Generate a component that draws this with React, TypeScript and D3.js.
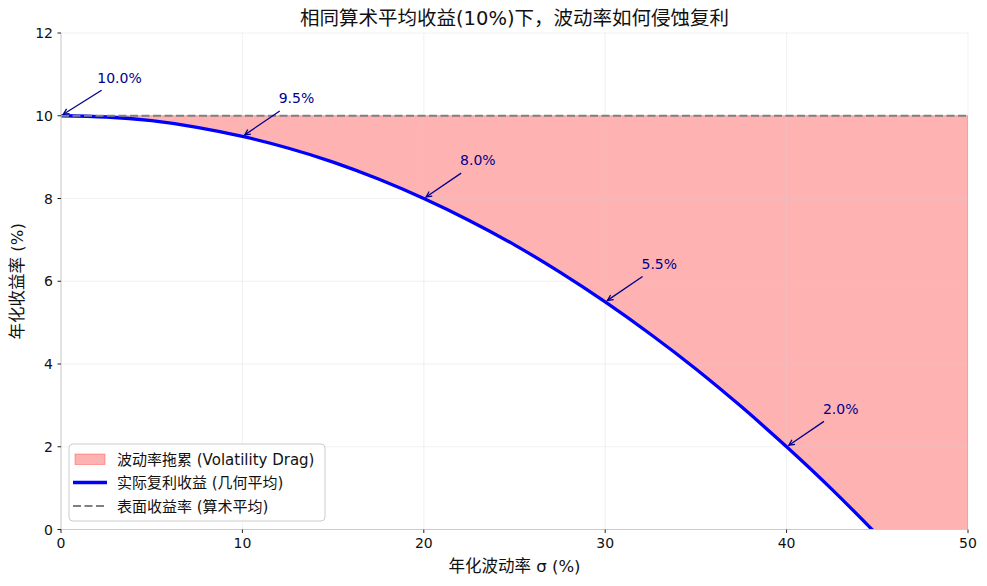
import * as d3 from "d3";
import { useEffect } from "react";

const WIDTH = 987;
const HEIGHT = 586;

// volatility σ (%) and the compounded (geometric) return
const SIGMA = [0, 2.5, 5, 7.5, 10, 12.5, 15, 17.5, 20, 22.5, 25, 27.5, 30, 32.5, 35, 37.5, 40, 42.5, 45, 47.5, 50];
const GEO_RETURN = [10, 9.97, 9.88, 9.72, 9.5, 9.22, 8.88, 8.47, 8.0, 7.47, 6.88, 6.22, 5.5, 4.72, 3.88, 2.97, 2.0, 0.97, -0.13, -1.28, -2.5];
const ARITH_RETURN = 10;

const ANNOT_SIGMA = [0, 10, 20, 30, 40];
const ANNOT_VALUE = [10.0, 9.5, 8.0, 5.5, 2.0];

const X_TICKS = [0, 10, 20, 30, 40, 50];
const Y_TICKS = [0, 2, 4, 6, 8, 10, 12];

const LEGEND_LABELS = ["波动率拖累 (Volatility Drag)", "实际复利收益 (几何平均)", "表面收益率 (算术平均)"];

const TITLE = "相同算术平均收益(10%)下，波动率如何侵蚀复利";
const X_LABEL = "年化波动率 σ (%)";
const Y_LABEL = "年化收益率 (%)";

const FONT = "'DejaVu Sans', 'Noto Sans CJK SC', sans-serif";
const M = { left: 61, right: 968, top: 33, bottom: 529.5 };

let ctx: CanvasRenderingContext2D | null = null;
function textWidth(s: string, size: number) {
	if (!ctx) ctx = document.createElement("canvas").getContext("2d");
	if (!ctx) return s.length * size * 0.6;
	ctx.font = `${size}px 'DejaVu Sans'`;
	return ctx.measureText(s).width;
}

function Annotation({ sx, sy, tx, ty, label }: { sx: number; sy: number; tx: number; ty: number; label: string }) {
	const fs = 14;
	const pad = 2.78;
	const w = textWidth(label, fs);
	const left = tx - pad;
	const right = tx + w + pad;
	const top = ty - 0.76 * fs - pad;
	const bottom = ty + 0.24 * fs + pad;
	const cx = (left + right) / 2;
	const cy = (top + bottom) / 2;
	const dx = sx - cx;
	const dy = sy - cy;
	const len = Math.hypot(dx, dy);
	const ux = dx / len;
	const uy = dy / len;
	const t = Math.min((right - left) / 2 / Math.abs(dx || 1e-9), (bottom - top) / 2 / Math.abs(dy || 1e-9));
	const x1 = cx + dx * t + ux * 2.78;
	const y1 = cy + dy * t + uy * 2.78;
	const x2 = sx - ux * 2.78;
	const y2 = sy - uy * 2.78;
	const hl = 5.56;
	const hw = 2.78;
	const bx = x2 - ux * hl;
	const by = y2 - uy * hl;
	const head = `M${bx - uy * hw},${by + ux * hw}L${x2},${y2}L${bx + uy * hw},${by - ux * hw}`;
	return (
		<g>
			<line x1={x1} y1={y1} x2={x2} y2={y2} stroke="#00008b" strokeWidth={1.3} />
			<path d={head} fill="none" stroke="#00008b" strokeWidth={1.3} />
			<text x={tx} y={ty} fontSize={fs} fill="#00008b" fontFamily={FONT}>
				{label}
			</text>
		</g>
	);
}

export default function App() {
	useEffect(() => {
		document.body.style.margin = "0";
	}, []);

	const x = d3.scaleLinear().domain([0, 50]).range([M.left, M.right]);
	const y = d3.scaleLinear().domain([0, 12]).range([M.bottom, M.top]);

	const points = SIGMA.map((s, i) => [s, GEO_RETURN[i]] as [number, number]);

	const line = d3
		.line<[number, number]>()
		.x((d) => x(d[0]))
		.y((d) => y(d[1]))
		.curve(d3.curveNatural);

	const area = d3
		.area<[number, number]>()
		.x((d) => x(d[0]))
		.y0(() => y(ARITH_RETURN))
		.y1((d) => y(d[1]))
		.curve(d3.curveNatural);

	const legendX = 69;
	const legendY = 444;
	const rowY = [459, 482.5, 506];

	return (
		<svg width={WIDTH} height={HEIGHT} style={{ display: "block", background: "#fff" }}>
			<defs>
				<clipPath id="plot-clip">
					<rect x={M.left} y={M.top} width={M.right - M.left} height={M.bottom - M.top} />
				</clipPath>
			</defs>

			{/* drag area */}
			<g clipPath="url(#plot-clip)">
				<path d={area(points) ?? ""} fill="red" fillOpacity={0.3} stroke="red" strokeOpacity={0.3} strokeWidth={1} />
			</g>

			{/* grid */}
			<g stroke="#d0d0d0" strokeOpacity={0.3} strokeWidth={1}>
				{X_TICKS.map((t) => (
					<line key={`gx${t}`} x1={x(t)} x2={x(t)} y1={M.top} y2={M.bottom} />
				))}
				{Y_TICKS.map((t) => (
					<line key={`gy${t}`} x1={M.left} x2={M.right} y1={y(t)} y2={y(t)} />
				))}
			</g>

			<g clipPath="url(#plot-clip)">
				<path d={line(points) ?? ""} fill="none" stroke="#0000ff" strokeWidth={3.3} />
			</g>
			<line
				x1={x(0)}
				x2={x(50)}
				y1={y(ARITH_RETURN)}
				y2={y(ARITH_RETURN)}
				stroke="#808080"
				strokeWidth={2}
				strokeDasharray="8,3.5"
			/>

			{/* spines */}
			<line x1={M.left} x2={M.left} y1={M.top} y2={M.bottom} stroke="#cccccc" strokeWidth={1} />
			<line x1={M.left} x2={M.right} y1={M.bottom} y2={M.bottom} stroke="#cccccc" strokeWidth={1} />

			{/* ticks */}
			{X_TICKS.map((t) => (
				<g key={`xt${t}`}>
					<line x1={x(t)} x2={x(t)} y1={M.bottom} y2={M.bottom + 3.5} stroke="#222" strokeWidth={1} />
					<text x={x(t)} y={M.bottom + 18.5} textAnchor="middle" fontSize={14} fontFamily={FONT} fill="#111">
						{t}
					</text>
				</g>
			))}
			{Y_TICKS.map((t) => (
				<g key={`yt${t}`}>
					<line x1={M.left - 3.5} x2={M.left} y1={y(t)} y2={y(t)} stroke="#222" strokeWidth={1} />
					<text x={M.left - 8} y={y(t) + 5} textAnchor="end" fontSize={14} fontFamily={FONT} fill="#111">
						{t}
					</text>
				</g>
			))}

			{/* annotations */}
			{ANNOT_SIGMA.map((s, i) => (
				<Annotation
					key={`a${s}`}
					sx={x(s)}
					sy={y(ANNOT_VALUE[i])}
					tx={x(s + 2)}
					ty={y(ANNOT_VALUE[i] + 0.8)}
					label={`${ANNOT_VALUE[i].toFixed(1)}%`}
				/>
			))}

			{/* legend */}
			<g>
				<rect
					x={legendX}
					y={legendY}
					width={256}
					height={77}
					rx={4}
					fill="#fff"
					fillOpacity={0.8}
					stroke="#cccccc"
					strokeWidth={1}
				/>
				<rect x={75} y={rowY[0] - 5} width={30} height={10.5} fill="red" fillOpacity={0.3} stroke="red" strokeOpacity={0.3} />
				<line x1={73} x2={107} y1={rowY[1]} y2={rowY[1]} stroke="#0000ff" strokeWidth={3.3} />
				<line x1={73} x2={107} y1={rowY[2]} y2={rowY[2]} stroke="#808080" strokeWidth={2} strokeDasharray="8,3.5" />
				{LEGEND_LABELS.map((l, i) => (
					<text key={l} x={117} y={rowY[i] + 5.5} fontSize={15} fontFamily={FONT} fill="#111">
						{l}
					</text>
				))}
			</g>

			{/* labels */}
			<text x={(M.left + M.right) / 2} y={25} textAnchor="middle" fontSize={19.5} fontFamily={FONT} fill="#111">
				{TITLE}
			</text>
			<text x={(M.left + M.right) / 2} y={572} textAnchor="middle" fontSize={16.5} fontFamily={FONT} fill="#111">
				{X_LABEL}
			</text>
			<text
				transform={`translate(23,${(M.top + M.bottom) / 2}) rotate(-90)`}
				textAnchor="middle"
				fontSize={16.5}
				fontFamily={FONT}
				fill="#111"
			>
				{Y_LABEL}
			</text>
		</svg>
	);
}
